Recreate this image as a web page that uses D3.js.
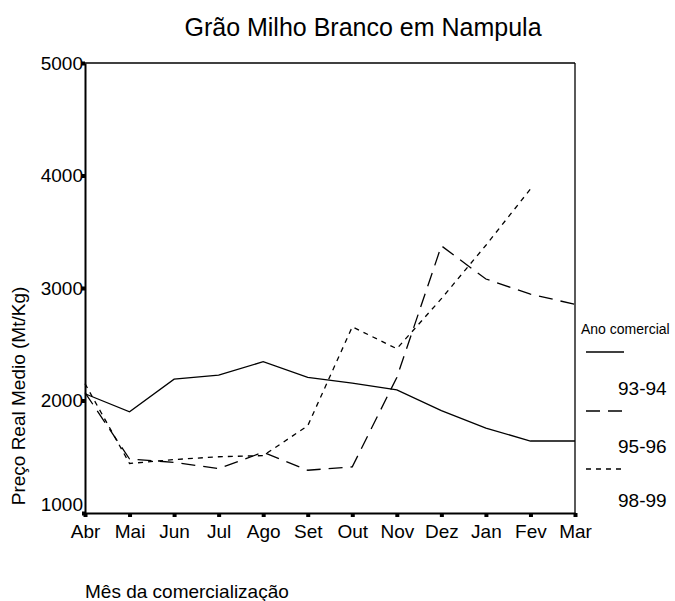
<!DOCTYPE html>
<html><head><meta charset="utf-8">
<script src="https://cdn.jsdelivr.net/npm/d3@7"></script>
<style>body{margin:0;background:#fff;} svg{display:block;font-family:"Liberation Sans",Arial,sans-serif;}</style>
</head><body><svg id="c" width="675" height="601"></svg>
<script>
const months = ["Abr","Mai","Jun","Jul","Ago","Set","Out","Nov","Dez","Jan","Fev","Mar"];
const yTicks = [1000,2000,3000,4000,5000];
const s9394 = [2060,1900,2190,2225,2345,2205,2155,2095,1910,1755,1640,1640];
const s9596 = [2070,1480,1450,1395,1540,1380,1410,2205,3375,3080,2945,2855];
const s9899 = [2150,1440,1475,1500,1510,1775,2655,2460,2905,3380,3880,null];
const seriesNames = ["93-94","95-96","98-99"];
const dashes = [null,"14,8","5,5"];

const svg = d3.select("#c");
const L=85,R=575,T=63,B=513;
const x = d3.scalePoint().domain(months).range([L,R]);
const y = d3.scaleLinear().domain([1000,5000]).range([B,T]);
const FF = "Liberation Sans, Arial, sans-serif";

svg.append("text").attr("x",363).attr("y",36).attr("text-anchor","middle").attr("font-size",25).text("Grão Milho Branco em Nampula");

// frame
svg.append("line").attr("x1",L).attr("x2",R).attr("y1",T).attr("y2",T).attr("stroke","#000").attr("stroke-width",1.3);
svg.append("line").attr("x1",R).attr("x2",R).attr("y1",T).attr("y2",B).attr("stroke","#000").attr("stroke-width",1.3);

const gx = svg.append("g").attr("transform",`translate(0,${B})`).call(d3.axisBottom(x).tickSize(0).tickPadding(12));
gx.select(".domain").attr("stroke-width",2);
gx.selectAll("text").attr("font-size",19).attr("fill","#000").attr("font-family",FF);
gx.selectAll(".tick").append("rect").attr("x",-2).attr("y",0).attr("width",4).attr("height",4).attr("fill","#000");

const gy = svg.append("g").attr("transform",`translate(${L},0)`).call(d3.axisLeft(y).tickValues(yTicks).tickFormat(d3.format("d")).tickSize(0).tickPadding(2));
gy.select(".domain").attr("stroke-width",2);
gy.selectAll("text").attr("font-size",19).attr("fill","#000").attr("font-family",FF)
  .attr("dy",d=>d===1000?"-0.15em":"0.32em");
gy.selectAll(".tick").append("rect").attr("x",-3).attr("y",-2).attr("width",3).attr("height",4).attr("fill","#000");

const line = d3.line().defined(d=>d!=null).x((d,i)=>x(months[i])).y(d=>y(d));
[s9394,s9596,s9899].forEach((s,k)=>{
  svg.append("path").attr("d",line(s)).attr("fill","none").attr("stroke","#000").attr("stroke-width",1.3)
    .attr("stroke-dasharray",dashes[k]);
});

svg.append("text").attr("transform","translate(25,396) rotate(-90)").attr("text-anchor","middle").attr("font-size",19).text("Preço Real Medio (Mt/Kg)");
svg.append("text").attr("x",85).attr("y",598).attr("font-size",19).text("Mês da comercialização");

// legend
svg.append("text").attr("x",581).attr("y",334).attr("font-size",14).text("Ano comercial");
const legLineY=[352,411,469], legTextY=[388,446,500];
seriesNames.forEach((n,k)=>{
  svg.append("line").attr("x1",586).attr("x2",624).attr("y1",legLineY[k]).attr("y2",legLineY[k]).attr("stroke","#000").attr("stroke-width",1.3).attr("stroke-dasharray",dashes[k]);
  svg.append("text").attr("x",618).attr("y",legTextY[k]).attr("dy","0.35em").attr("font-size",19).text(n);
});
</script></body></html>
